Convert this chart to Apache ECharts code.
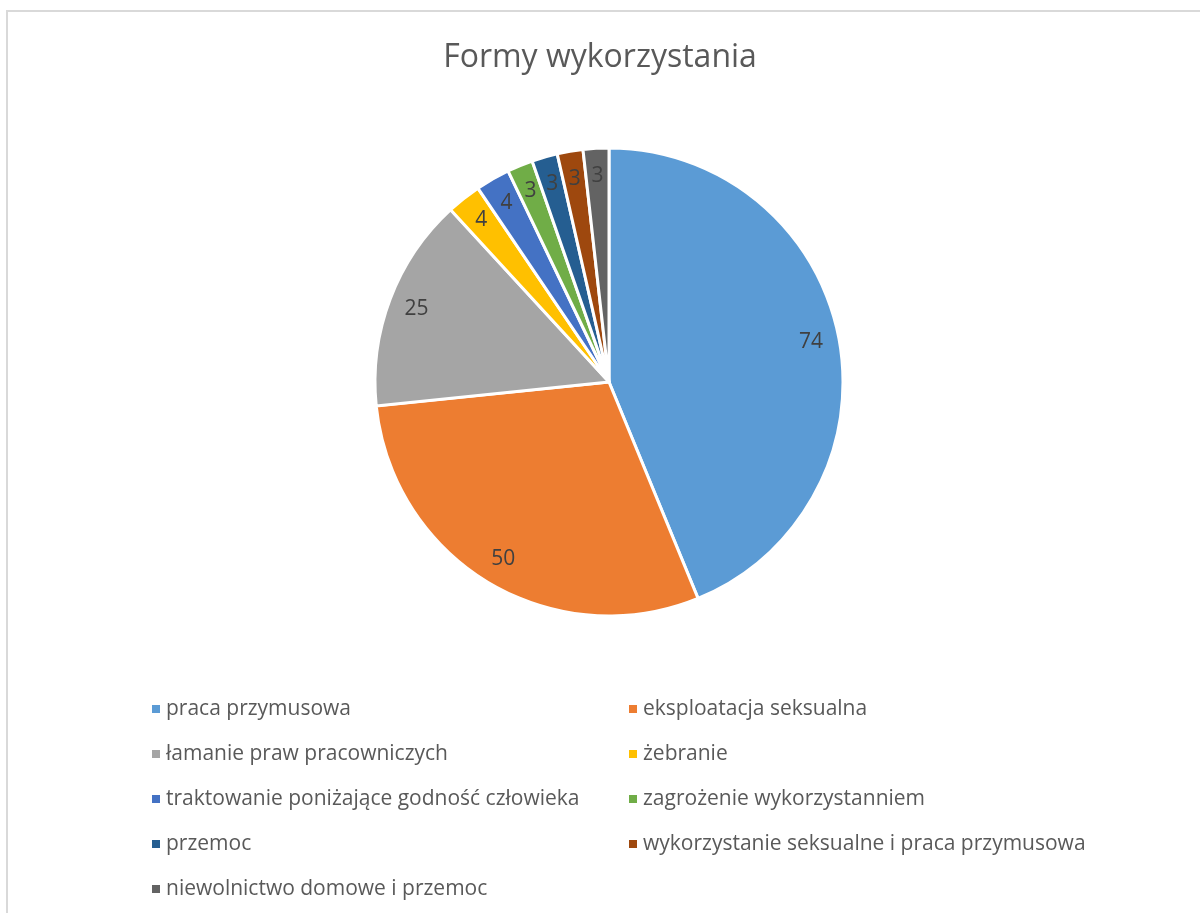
<!DOCTYPE html>
<html>
<head>
<meta charset="utf-8">
<script src="https://cdn.jsdelivr.net/npm/echarts@6/dist/echarts.min.js"></script>
<style>
  html, body { margin: 0; padding: 0; background: #fff; }
  #chart { width: 1200px; height: 913px; }
</style>
</head>
<body>
<div id="chart"></div>
<script>
const categories = [
  'praca przymusowa',
  'eksploatacja seksualna',
  'łamanie praw pracowniczych',
  'żebranie',
  'traktowanie poniżające godność człowieka',
  'zagrożenie wykorzystanniem',
  'przemoc',
  'wykorzystanie seksualne i praca przymusowa',
  'niewolnictwo domowe i przemoc'
]
const values = [74, 50, 25, 4, 4, 3, 3, 3, 3]
const colors = ['#5B9BD5', '#ED7D31', '#A5A5A5', '#FFC000', '#4472C4', '#70AD47', '#255E91', '#9E480E', '#636363']

const chart = echarts.init(document.getElementById('chart'))

const pieData = categories.map((name, i) => ({ name, value: values[i] }))
const leftNames = categories.filter((_, i) => i % 2 === 0)
const rightNames = categories.filter((_, i) => i % 2 === 1)

const fontFamily = '"Open Sans", "Noto Sans", sans-serif'
const legendBase = {
  orient: 'vertical',
  top: 693,
  itemGap: 23,
  itemWidth: 10,
  itemHeight: 10,
  icon: 'rect',
  selectedMode: false,
  textStyle: { color: '#595959', fontSize: 21, fontFamily, lineHeight: 22 }
}

const options = {
  color: colors,
  animation: false,
  title: {
    text: 'Formy wykorzystania',
    left: 'center',
    top: 37,
    textStyle: { color: '#595959', fontSize: 32, fontWeight: 'normal', fontFamily }
  },
  legend: [
    { ...legendBase, left: 145, data: leftNames },
    { ...legendBase, left: 622, data: rightNames }
  ],
  graphic: [{
    type: 'rect',
    silent: true,
    shape: { x: 7, y: 11, width: 1300, height: 1000 },
    style: { fill: 'none', stroke: '#d9d9d9', lineWidth: 2 }
  }],
  series: [
    {
      type: 'pie',
      center: [609, 382],
      radius: 234,
      startAngle: 90,
      data: pieData,
      label: { show: false },
      labelLine: { show: false },
      itemStyle: { borderColor: '#fff', borderWidth: 3 },
      emphasis: { disabled: true }
    },
    {
      // przezroczysta warstwa tylko dla etykiet (bliżej krawędzi)
      type: 'pie',
      center: [609, 382],
      radius: [172, 234],
      startAngle: 90,
      silent: true,
      data: pieData,
      itemStyle: { color: 'transparent' },
      label: {
        show: true,
        position: 'inside',
        formatter: '{c}',
        color: '#404040',
        fontSize: 21,
        fontFamily
      },
      labelLine: { show: false },
      emphasis: { disabled: true }
    }
  ]
}

chart.setOption(options, true)
</script>
</body>
</html>
